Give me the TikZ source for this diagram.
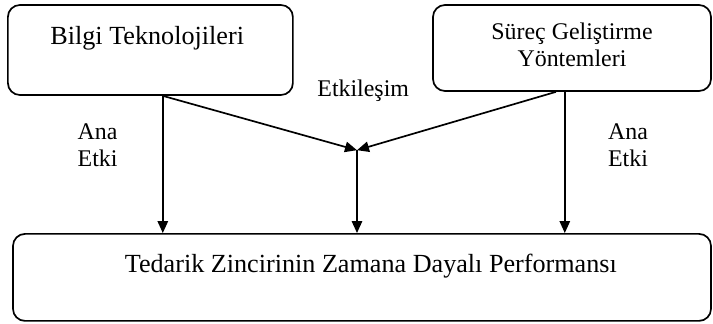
\documentclass[tikz,border=0pt]{standalone}
\usepackage{fontspec}
\setmainfont{Liberation Serif}
\usepackage{tikz}
\usetikzlibrary{arrows.meta,positioning}

\begin{document}
\begin{tikzpicture}[
        box/.style={draw, rounded corners=0.3cm, line width=1.2pt},
        txt/.style={inner sep=0pt, align=center, font=\fontsize{17}{19.5}\selectfont},
        bigtxt/.style={txt, font=\fontsize{18.6}{21}\selectfont},
        arr/.style={-{Triangle[length=0.3cm, width=0.26cm]}, line width=1.2pt}
      ]
        \useasboundingbox (0,0) rectangle (17.825,8.075);
        % boxes
        \node[box, minimum width=7.125cm, minimum height=2.25cm] (bt) at (3.76,6.825) {};
        \node[box, minimum width=6.95cm, minimum height=2.15cm] (sg) at (14.3,6.875) {};
        \node[box, minimum width=17.45cm, minimum height=2.175cm] (perf) at (9.05,1.14) {};
        \node[bigtxt, below=0.55cm of bt.north, xshift=-0.08cm] (btt) {Bilgi Teknolojileri};
        \node[txt, below=0.45cm of sg.north] (sgt) {Süreç Geliştirme\\Yöntemleri};
        \node[bigtxt, below=0.52cm of perf.north, xshift=0.22cm] (perft) {Tedarik Zincirinin Zamana Dayalı Performansı};
        % labels
        \node[txt] (etk) at (9.08,5.8) {Etkileşim};
        \node[txt] (anal) at (2.44,4.45) {Ana\\Etki};
        \node[txt] (anar) at (15.7,4.45) {Ana\\Etki};
        % arrows
        \coordinate (btout) at ([xshift=0.31cm]bt.south);
        \coordinate (sgout) at ([xshift=-0.18cm]sg.south);
        \coordinate (sgdiag) at ([xshift=-0.4cm]sg.south);
        \coordinate (mid) at (8.925,4.32);
        \draw[arr] (btout) -- (btout |- perf.north);
        \draw[arr] (sgout) -- (sgout |- perf.north);
        \draw[arr] (btout) -- (mid);
        \draw[arr] (sgdiag) -- (mid);
        \draw[arr] (mid) -- (mid |- perf.north);
      \end{tikzpicture}
\end{document}
